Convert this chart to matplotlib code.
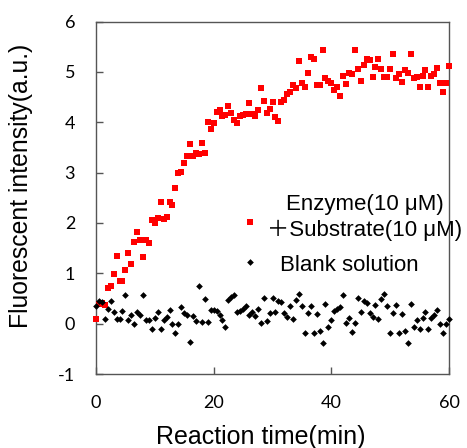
import numpy as np
import matplotlib
matplotlib.use("Agg")
import matplotlib.pyplot as plt

time_min = np.arange(0, 60.01, 0.5)

enzyme_substrate = [
    0.10, 0.39, 0.40, 0.38, 0.70, 0.75, 0.98, 1.34, 0.84, 0.84,
    1.06, 1.41, 1.18, 1.63, 1.82, 1.67, 1.32, 1.67, 1.61, 2.05,
    2.00, 2.10, 2.41, 2.08, 2.11, 2.41, 2.36, 2.70, 2.99, 3.02,
    3.19, 3.33, 3.56, 3.33, 3.39, 3.36, 3.58, 3.38, 4.01, 3.87,
    3.98, 4.21, 4.25, 4.13, 4.15, 4.33, 4.18, 4.04, 3.99, 4.13,
    4.15, 4.16, 4.38, 4.16, 4.13, 4.24, 4.68, 4.43, 4.18, 4.26,
    4.41, 4.11, 4.03, 4.41, 4.45, 4.56, 4.60, 4.74, 4.68, 5.22,
    4.78, 4.69, 4.97, 5.30, 5.26, 4.74, 4.74, 5.44, 4.87, 4.82,
    4.77, 4.63, 4.70, 4.52, 4.91, 4.76, 4.98, 4.95, 5.44, 5.05,
    4.82, 5.14, 5.26, 5.24, 4.89, 5.10, 5.26, 5.05, 4.89, 4.89,
    5.06, 5.36, 4.88, 4.95, 4.80, 5.03, 4.97, 5.36, 4.88, 4.89,
    4.69, 4.92, 5.03, 4.70, 4.91, 4.95, 5.08, 4.78, 4.60, 4.78,
    5.12,
]

blank_solution = [
    0.35, 0.45, 0.43, 0.10, 0.30, 0.45, 0.24, 0.10, 0.10, 0.26,
    0.56, 0.08, 0.17, 0.00, 0.24, 0.17, 0.56, 0.07, 0.08, -0.11,
    0.12, 0.23, -0.10, 0.08, 0.13, 0.28, -0.01, -0.19, -0.01, 0.33,
    0.21, 0.18, -0.37, 0.16, 0.06, 0.74, 0.03, 0.49, 0.04, 0.27,
    0.27, 0.25, 0.17, 0.07, -0.06, 0.47, 0.52, 0.56, 0.23, 0.26,
    0.30, 0.35, 0.18, 0.23, 0.15, 0.29, 0.02, 0.51, 0.06, 0.22,
    0.50, 0.23, 0.45, 0.42, 0.21, 0.13, 0.36, 0.10, 0.47, 0.59,
    0.36, -0.18, 0.21, 0.36, -0.18, 0.20, -0.14, -0.38, 0.39, -0.06,
    0.08, 0.25, 0.29, 0.33, 0.57, 0.02, 0.11, -0.17, 0.02, 0.50,
    0.23, 0.44, 0.41, 0.22, 0.14, 0.37, 0.10, 0.48, 0.58, 0.36,
    -0.18, 0.21, 0.37, -0.18, 0.20, -0.14, -0.38, 0.39, -0.06, 0.08,
    -0.11, 0.12, 0.23, -0.10, 0.12, 0.17, 0.28, -0.01, -0.19, -0.01,
    0.10,
]

x_ticks = [0, 20, 40, 60]
y_ticks = [-1, 0, 1, 2, 3, 4, 5, 6]
label_enzyme = "Enzyme(10 μM)\n＋Substrate(10 μM)"
label_blank = "Blank solution"

TEXT_FONT = ["Liberation Sans", "Noto Sans CJK JP", "DejaVu Sans"]
TICK_FONT = ["Lato", "DejaVu Sans"]
SPINE = "#555555"

fig = plt.figure(figsize=(4.67, 4.48), dpi=100)
ax = fig.add_axes([96 / 467, 1 - 374 / 448, 353 / 467, 352.5 / 448])

h_red, = ax.plot(time_min, enzyme_substrate, linestyle="none", marker="s",
                 markersize=3.8, color="#ff0000", markeredgewidth=0, clip_on=False, zorder=3)
h_blk, = ax.plot(time_min, blank_solution, linestyle="none", marker="D",
                 markersize=3.4, color="#000000", markeredgewidth=0, clip_on=False, zorder=3)

ax.set_xlim(0, 60)
ax.set_ylim(-1, 6)
ax.set_xticks(x_ticks)
ax.set_yticks(y_ticks)
ax.set_xticklabels([str(v) for v in x_ticks], family=TICK_FONT, fontsize=13)
ax.set_yticklabels([str(v) for v in y_ticks], family=TICK_FONT, fontsize=13)
ax.tick_params(direction="in", length=5, width=1, color=SPINE, pad=15)
for s in ax.spines.values():
    s.set_color(SPINE)
    s.set_linewidth(1.0)

ax.set_xlabel("Reaction time(min)", family=TEXT_FONT, fontsize=18)
ax.set_ylabel("Fluorescent intensity(a.u.)", family=TEXT_FONT, fontsize=17.8)
ax.xaxis.set_label_coords(0.467, -0.146)
ax.yaxis.set_label_coords(-0.178, 0.535)

fs = 16
leg1 = ax.legend([h_red], [label_enzyme], loc="center left",
                 bbox_to_anchor=(0.4207, 0.445), frameon=False, borderpad=0,
                 borderaxespad=0, handlelength=0.5, handletextpad=0.52,
                 handleheight=-0.6, numpoints=1,
                 prop={"family": TEXT_FONT, "size": fs})
for t in leg1.get_texts():
    t.set_multialignment("center")
    t.set_linespacing(1.3)
ax.add_artist(leg1)
leg2 = ax.legend([h_blk], [label_blank], loc="center left",
                 bbox_to_anchor=(0.4200, 0.312), frameon=False, borderpad=0,
                 borderaxespad=0, handlelength=0.5, handletextpad=1.1,
                 handleheight=1.2, numpoints=1,
                 prop={"family": TEXT_FONT, "size": fs})

fig.savefig("out.png", dpi=100)
